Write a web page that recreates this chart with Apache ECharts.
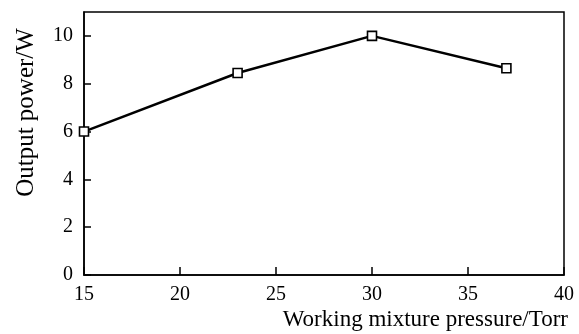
<!DOCTYPE html>
<html>
<head>
<meta charset="utf-8">
<script src="https://cdn.jsdelivr.net/npm/echarts@6/dist/echarts.min.js"></script>
<style>html,body{margin:0;padding:0;background:#fff;}#c{width:579px;height:334px;}</style>
</head>
<body>
<div id="c"></div>
<script>
const pressure = [15, 23, 30, 37];
const outputPower = [6.0, 8.45, 10.0, 8.65];
const xTitle = 'Working mixture pressure/Torr';
const yTitle = 'Output power/W';

const font = 'Liberation Serif, Times New Roman, serif';
const chart = echarts.init(document.getElementById('c'), null, {renderer: 'canvas'});
chart.setOption({
  animation: false,
  backgroundColor: '#fff',
  grid: {left: 84, right: 15, top: 12, bottom: 59, show: true, borderColor: '#000', borderWidth: 1.5, backgroundColor: 'transparent'},
  xAxis: {
    type: 'value', min: 15, max: 40, interval: 5,
    name: xTitle, nameLocation: 'end', nameGap: 4,
    nameTextStyle: {fontFamily: font, fontSize: 23, color: '#000', align: 'right', verticalAlign: 'top', padding: [33, 0, 0, 0]},
    axisLine: {show: true, lineStyle: {color: '#000', width: 1.5}},
    axisTick: {show: true, inside: true, length: 8, lineStyle: {color: '#000', width: 1.5}},
    axisLabel: {fontFamily: font, fontSize: 20, color: '#000', margin: 10},
    splitLine: {show: false}
  },
  yAxis: {
    type: 'value', min: 0, max: 11, interval: 2,
    name: yTitle, nameLocation: 'middle', nameGap: 45,
    nameTextStyle: {fontFamily: font, fontSize: 25, color: '#000', padding: [0, 0, 0, 62]},
    axisLine: {show: true, lineStyle: {color: '#000', width: 1.5}},
    axisTick: {show: true, inside: true, length: 7, lineStyle: {color: '#000', width: 1.5}},
    axisLabel: {fontFamily: font, fontSize: 20, color: '#000', margin: 11, showMaxLabel: false},
    splitLine: {show: false}
  },
  series: [{
    type: 'line',
    data: pressure.map((p, i) => [p, outputPower[i]]),
    symbol: 'rect', symbolSize: 9,
    lineStyle: {color: '#000', width: 2.5},
    itemStyle: {color: '#fff', borderColor: '#000', borderWidth: 1.6},
    clip: false
  }]
});
</script>
</body>
</html>
